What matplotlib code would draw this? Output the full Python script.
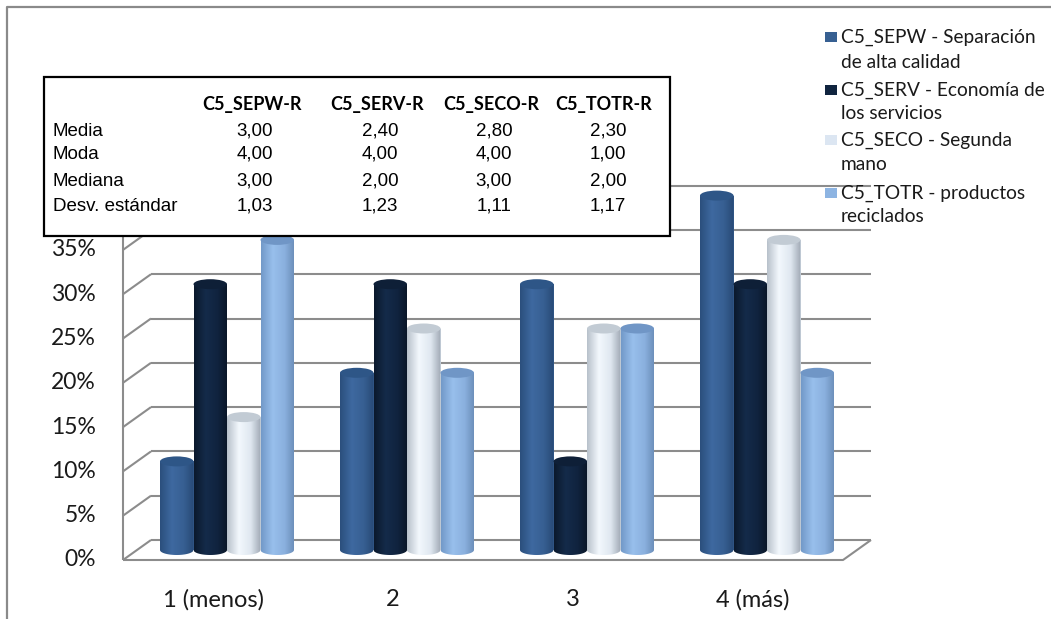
#!/usr/bin/env python
# -*- coding: utf-8 -*-
import numpy
import matplotlib
matplotlib.use('Agg')
from matplotlib import pyplot
from matplotlib.patches import Ellipse, PathPatch, Rectangle
from matplotlib.path import Path
from matplotlib.lines import Line2D
from matplotlib.colors import to_rgb

W, H = 1051, 619

categories = ['1 (menos)', '2', '3', '4 (más)']
series_labels = [
    ['C5_SEPW - Separación', 'de alta calidad'],
    ['C5_SERV - Economía de', 'los servicios'],
    ['C5_SECO - Segunda', 'mano'],
    ['C5_TOTR - productos', 'reciclados'],
]
sepw = [10, 20, 30, 40]
serv = [30, 30, 10, 30]
seco = [15, 25, 25, 35]
totr = [35, 20, 25, 20]
y_ticks = [0, 5, 10, 15, 20, 25, 30, 35, 40]

table_cols = ['C5_SEPW-R', 'C5_SERV-R', 'C5_SECO-R', 'C5_TOTR-R']
table_rows = ['Media', 'Moda', 'Mediana', 'Desv. estándar']
media = ['3,00', '2,40', '2,80', '2,30']
moda = ['4,00', '4,00', '4,00', '1,00']
mediana = ['3,00', '2,00', '3,00', '2,00']
desv = ['1,03', '1,23', '1,11', '1,17']

# legend square colour, cylinder gradient stops (left, highlight, mid, right), top cap
STYLES = [
    ('#376092', ['#2b4f7d', '#3e69a0', '#375f92', '#284a76'], '#2e5687'),
    ('#10243f', ['#0b192c', '#142b4a', '#10233e', '#0a1627'], '#0e1f37'),
    ('#dce6f2', ['#b8c1cb', '#f3f8fd', '#dfe7f0', '#a1aab5'], '#c2cbd4'),
    ('#8db4e2', ['#7299c8', '#98bfec', '#8ab0de', '#6a8db8'], '#7096c6'),
]
STOPS = [0.0, 0.35, 0.7, 1.0]

PX_X = 180.0          # pixels per category
PX_Y = 8.86           # pixels per percent
X0_PX, Y0_PX = 227.0, 550.0
DX = 14.0 / PX_X      # half depth of the 3d box
DY = 10.0 / PX_Y
BAR_W = 33.5 / PX_X
CAP_H = 10.0 / PX_Y
GRID = '#8c8c8c'
TEXT = '#1a1a1a'

FONT = ['Lato', 'DejaVu Sans']
NARROW = ['Liberation Sans Narrow', 'Liberation Sans', 'DejaVu Sans']


def fx(px):
    return px / float(W)


def fy(py):
    return 1.0 - py / float(H)


def gradient(stops):
    t = numpy.linspace(0, 1, 80)
    cols = numpy.array([to_rgb(c) for c in stops])
    img = numpy.stack([numpy.interp(t, STOPS, cols[:, k]) for k in range(3)], axis=-1)
    return img[numpy.newaxis, :, :]


def cylinder(ax, rect, stops, top_color):
    x0, w, h = rect.get_x(), rect.get_width(), rect.get_height()
    xc = x0 + w / 2.0
    th = numpy.linspace(numpy.pi, 2 * numpy.pi, 40)
    arc = numpy.column_stack([xc + w / 2.0 * numpy.cos(th), CAP_H / 2.0 * numpy.sin(th)])
    verts = [(x0, h)] + arc.tolist() + [(x0 + w, h), (x0, h)]
    codes = [Path.MOVETO] + [Path.LINETO] * (len(arc) + 1) + [Path.CLOSEPOLY]
    body = PathPatch(Path(verts, codes), facecolor='none', edgecolor='none')
    ax.add_patch(body)
    im = ax.imshow(gradient(stops), extent=(x0, x0 + w, -CAP_H / 2.0, h),
                   aspect='auto', interpolation='bilinear', zorder=3)
    im.set_clip_path(body)
    ax.add_patch(Ellipse((xc, h), w, CAP_H, facecolor=top_color,
                         edgecolor='none', zorder=4))


def draw_box(ax):
    left, right = -0.5, len(categories) - 0.5
    top = y_ticks[-1]
    kw = dict(color=GRID, lw=1.5, zorder=1, solid_capstyle='butt')
    for t in y_ticks:
        ax.plot([left + DX, right + DX], [t + DY, t + DY], **kw)
        ax.plot([left - DX, left + DX], [t - DY, t + DY], **kw)
    ax.plot([left - DX, left - DX], [-DY, top - DY], **kw)
    ax.plot([left - DX, right - DX, right + DX], [-DY, -DY, DY], **kw)


def draw_table(fig):
    fig.add_artist(Rectangle((fx(44), fy(236)), fx(670) - fx(44), fy(77) - fy(236),
                             transform=fig.transFigure, facecolor='white',
                             edgecolor='black', lw=1.6, zorder=5))
    head_x = [252, 377, 491, 604]
    val_x = [255, 380, 494, 608]
    row_y = [136, 159, 186, 211]
    for name, x in zip(table_cols, head_x):
        fig.text(fx(x), fy(110), name, ha='center', va='baseline', fontsize=13,
                 fontweight='bold', family=FONT, color='black', zorder=6)
    values = [media, moda, mediana, desv]
    for label, vals, y in zip(table_rows, values, row_y):
        fig.text(fx(53), fy(y), label, ha='left', va='baseline', fontsize=13.5,
                 family=NARROW, color='black', zorder=6)
        for v, x in zip(vals, val_x):
            fig.text(fx(x), fy(y), v, ha='center', va='baseline', fontsize=13.5,
                     family=NARROW, color='black', zorder=6)


def draw_legend(fig):
    line_y = [37, 62, 90, 114, 140, 165, 193, 217]
    for i, lines in enumerate(series_labels):
        y0 = line_y[2 * i]
        fig.add_artist(Rectangle((fx(825), fy(y0 + 5)), fx(12), 10.0 / H,
                                 transform=fig.transFigure,
                                 facecolor=STYLES[i][0], edgecolor='none', zorder=6))
        for j, txt in enumerate(lines):
            fig.text(fx(841), fy(line_y[2 * i + j]), txt, ha='left', va='center',
                     fontsize=13.8, family=FONT, color=TEXT, zorder=6)


def main():
    fig = pyplot.figure(figsize=(W / 100.0, H / 100.0), dpi=100)
    fig.patch.set_facecolor('white')
    ax = fig.add_axes([0, 0, 1, 1])
    ax.set_axis_off()

    draw_box(ax)

    series = [sepw, serv, seco, totr]
    x = numpy.arange(len(categories))
    offsets = (numpy.arange(len(series)) - 1.5) * BAR_W
    for i, vals in enumerate(series):
        bars = ax.bar(x + offsets[i], vals, BAR_W, color=STYLES[i][0],
                      edgecolor='none', zorder=2)
        for rect in bars:
            cylinder(ax, rect, STYLES[i][1], STYLES[i][2])

    for t in y_ticks[:-1]:
        ax.text(-0.5 - DX - 27.0 / PX_X, t - DY, '%d%%' % t, ha='right', va='center',
                fontsize=16.5, family=FONT, color=TEXT)
    for i, cat in enumerate(categories):
        ax.text(i - DX, -50.0 / PX_Y, cat, ha='center', va='center',
                fontsize=17, family=FONT, color=TEXT)

    ax.set_xlim(-X0_PX / PX_X, (W - X0_PX) / PX_X)
    ax.set_ylim((Y0_PX - H) / PX_Y, Y0_PX / PX_Y)

    # outer chart frame (only top and left are inside the picture)
    fig.add_artist(Line2D([fx(7), fx(7), 1.0], [0.0, fy(7), fy(7)],
                          transform=fig.transFigure, color='#8a8a8a', lw=1.6))

    draw_table(fig)
    draw_legend(fig)

    fig.savefig('out.png', dpi=100, facecolor='white')


if __name__ == '__main__':
    main()
